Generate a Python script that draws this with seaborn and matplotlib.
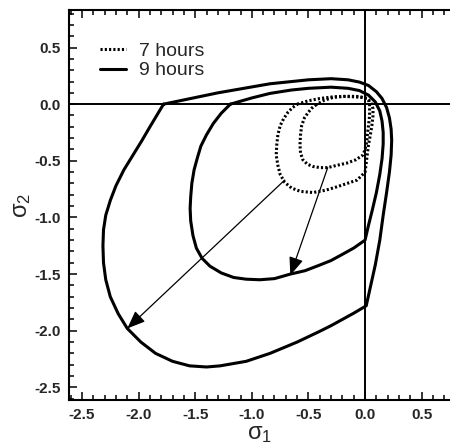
import matplotlib
matplotlib.use("Agg")
import matplotlib.pyplot as plt
from matplotlib.ticker import MultipleLocator
from matplotlib.lines import Line2D
import seaborn as sns
import pandas as pd

# ---- data ----
outer9_x = [-1.78, -1.30, -0.84, -0.50, -0.30, -0.15, -0.05, 0.03, 0.10, 0.15, 0.19, 0.215, 0.23, 0.235, 0.23,
            0.215, 0.19, 0.16, 0.13, 0.09, 0.05, 0.01,
            -0.10, -0.20, -0.30, -0.40, -0.60, -0.84, -1.05, -1.28, -1.40, -1.55, -1.70, -1.85, -1.98, -2.10,
            -2.18, -2.25, -2.29, -2.31, -2.315, -2.31, -2.29, -2.25, -2.20, -2.13, -2.05, -1.97, -1.90, -1.84, -1.78]
outer9_y = [0.00, 0.10, 0.18, 0.215, 0.225, 0.215, 0.195, 0.165, 0.11, 0.05, -0.03, -0.12, -0.22, -0.32, -0.45,
            -0.60, -0.78, -0.98, -1.20, -1.42, -1.60, -1.78,
            -1.845, -1.90, -1.955, -2.005, -2.10, -2.20, -2.27, -2.31, -2.32, -2.31, -2.27, -2.20, -2.10, -1.98,
            -1.85, -1.70, -1.55, -1.40, -1.25, -1.11, -0.98, -0.85, -0.72, -0.58, -0.45, -0.32, -0.20, -0.10, 0.00]

inner9_x = [-1.19, -1.00, -0.84, -0.65, -0.50, -0.30, -0.15, -0.05, 0.03, 0.09, 0.13, 0.15, 0.16, 0.16, 0.15,
            0.13, 0.10, 0.065, 0.03, 0.00,
            -0.10, -0.19, -0.30, -0.40, -0.53, -0.66, -0.80, -0.93, -1.05, -1.16, -1.27, -1.37, -1.44, -1.49,
            -1.52, -1.54, -1.545, -1.54, -1.53, -1.51, -1.48, -1.45, -1.40, -1.34, -1.27, -1.19]
inner9_y = [0.00, 0.055, 0.095, 0.125, 0.14, 0.15, 0.14, 0.12, 0.08, 0.02, -0.06, -0.15, -0.25, -0.35, -0.48,
            -0.62, -0.78, -0.93, -1.07, -1.20,
            -1.27, -1.32, -1.38, -1.42, -1.47, -1.50, -1.54, -1.55, -1.545, -1.53, -1.49, -1.43, -1.36, -1.27,
            -1.16, -1.03, -0.92, -0.82, -0.70, -0.58, -0.47, -0.37, -0.27, -0.17, -0.08, 0.00]

outer7_x = [-0.60, -0.50, -0.40, -0.28, -0.16, -0.07, -0.02, 0.02, 0.05, 0.07, 0.07, 0.06, 0.045, 0.03, 0.015,
            0.00, -0.04, -0.07, -0.16, -0.25, -0.35, -0.46, -0.57, -0.65, -0.71, -0.75, -0.77, -0.785, -0.78,
            -0.77, -0.75, -0.72, -0.68, -0.64, -0.60]
outer7_y = [0.00, 0.03, 0.05, 0.065, 0.07, 0.068, 0.06, 0.05, 0.02, -0.04, -0.10, -0.19, -0.28, -0.36, -0.48,
            -0.60, -0.64, -0.67, -0.70, -0.73, -0.76, -0.78, -0.77, -0.74, -0.69, -0.62, -0.54, -0.45, -0.36,
            -0.27, -0.19, -0.13, -0.07, -0.03, 0.00]

inner7_x = [-0.44, -0.36, -0.28, -0.19, -0.10, -0.03, 0.015, 0.035, 0.04, 0.04, 0.03, 0.02, 0.015, 0.00, -0.02,
            -0.08, -0.16, -0.25, -0.33, -0.40, -0.46, -0.51, -0.55, -0.57, -0.575, -0.57, -0.56, -0.535, -0.50,
            -0.47, -0.44]
inner7_y = [-0.01, 0.035, 0.06, 0.068, 0.065, 0.06, 0.05, 0.025, -0.01, -0.10, -0.19, -0.27, -0.33, -0.40, -0.45,
            -0.49, -0.52, -0.54, -0.56, -0.56, -0.55, -0.53, -0.49, -0.43, -0.36, -0.27, -0.19, -0.12, -0.07,
            -0.035, -0.01]

arrow_start = [(-0.71, -0.67), (-0.33, -0.56)]
arrow_end = [(-2.10, -1.98), (-0.66, -1.51)]

legend_labels = ["7 hours", "9 hours"]
x_ticks = [-2.5, -2.0, -1.5, -1.0, -0.5, 0.0, 0.5]
y_ticks = [-2.5, -2.0, -1.5, -1.0, -0.5, 0.0, 0.5]

# ---- style ----
sns.set_theme(style="white")
plt.rcParams["font.family"] = ["Liberation Sans", "DejaVu Sans"]
plt.rcParams["mathtext.fontset"] = "custom"
plt.rcParams["mathtext.rm"] = "Liberation Sans"
plt.rcParams["mathtext.it"] = "Liberation Sans"

fig = plt.figure(figsize=(4.5, 4.46), dpi=100)
ax = fig.add_axes([0.153, 0.103, 0.847, 0.874])

ax.axhline(0, color="black", lw=1.4, zorder=1)
ax.axvline(0, color="black", lw=1.4, zorder=1)

solid_lw = 2.2
dot_style = (0, (0.7, 0.7))
for xs, ys, ls in [(outer9_x, outer9_y, "-"), (inner9_x, inner9_y, "-"),
                   (outer7_x, outer7_y, dot_style), (inner7_x, inner7_y, dot_style)]:
    df = pd.DataFrame({"x": xs, "y": ys})
    sns.lineplot(data=df, x="x", y="y", sort=False, estimator=None, ax=ax,
                 color="black", lw=solid_lw, linestyle=ls, zorder=3)

for s, e in zip(arrow_start, arrow_end):
    ax.annotate("", xy=e, xytext=s,
                arrowprops=dict(arrowstyle="-|>,head_length=0.5,head_width=0.2",
                                mutation_scale=22, lw=0.9, color="black",
                                shrinkA=0, shrinkB=0), zorder=4)

ax.set_xlim(-2.616, 0.75)
ax.set_ylim(-2.612, 0.829)

ax.set_xticks(x_ticks)
ax.set_yticks(y_ticks)
ax.set_xticklabels([f"{v:.1f}" for v in x_ticks])
ax.set_yticklabels([f"{v:.1f}" for v in y_ticks])
ax.xaxis.set_minor_locator(MultipleLocator(0.1))
ax.yaxis.set_minor_locator(MultipleLocator(0.1))
ax.tick_params(which="both", direction="in", top=True, bottom=True, left=True, right=False,
               color="black", width=1.1)
ax.tick_params(which="major", length=6, labelsize=11, pad=6)
ax.tick_params(which="minor", length=3.5)
for lab in ax.get_xticklabels() + ax.get_yticklabels():
    lab.set_fontweight("bold")

for side in ["left", "bottom", "top"]:
    ax.spines[side].set_visible(True)
    ax.spines[side].set_color("black")
    ax.spines[side].set_linewidth(1.5)
ax.spines["right"].set_visible(False)

ax.set_xlabel(r"$\mathrm{\sigma_1}$", fontsize=17)
ax.xaxis.set_label_coords(0.5, -0.058)
ax.set_ylabel(r"$\mathrm{\sigma_2}$", fontsize=17, labelpad=1)

handles = [Line2D([0], [0], color="black", lw=solid_lw, linestyle=dot_style),
           Line2D([0], [0], color="black", lw=solid_lw, linestyle="-")]
ax.legend(handles, legend_labels, loc="upper left", bbox_to_anchor=(0.062, 0.938),
          frameon=False, fontsize=14, handlelength=1.3, handletextpad=0.7,
          labelspacing=0.1, borderaxespad=0)

fig.savefig("out.png", dpi=100)
